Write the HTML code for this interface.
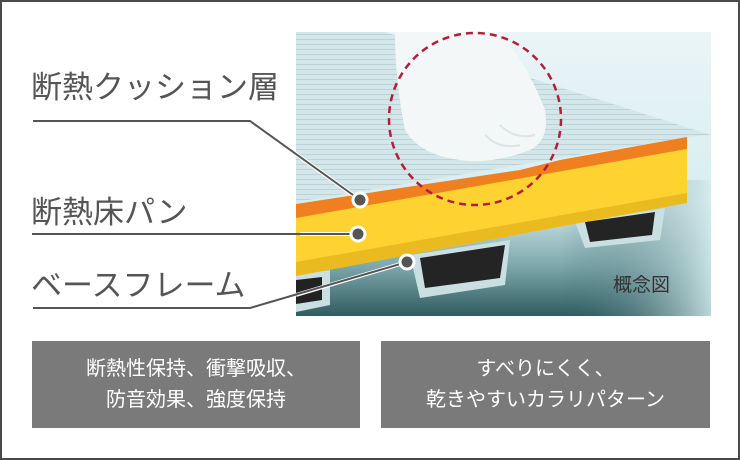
<!DOCTYPE html>
<html><head><meta charset="utf-8"><style>
body{margin:0;width:740px;height:460px;overflow:hidden;background:#fff;font-family:"Liberation Sans","Noto Sans CJK JP",sans-serif}
.frame{position:absolute;left:0;top:0;width:736px;height:456px;border:2px solid #4a4a4a}
.lbl{position:absolute;color:#555;font-size:31px;letter-spacing:0px;line-height:1}
.box{position:absolute;top:341px;height:87px;background:#7a7a7a;color:#fff;font-size:20px;line-height:31px;text-align:center;display:flex;align-items:center;justify-content:center}
</style></head><body>
<div class="frame"></div>
<svg style="position:absolute;left:0;top:0" width="740" height="460">
<defs>
<linearGradient id="bg" x1="0" y1="0" x2="0" y2="1">
<stop offset="0" stop-color="#eaf5f7"/><stop offset="0.6" stop-color="#d8edf0"/><stop offset="0.82" stop-color="#7fa9ad"/><stop offset="1" stop-color="#2f5c60"/></linearGradient>
<linearGradient id="bg2" x1="0" y1="0" x2="1" y2="0">
<stop offset="0" stop-color="#2f5c60" stop-opacity="0"/><stop offset="1" stop-color="#d5ebee" stop-opacity="0.85"/></linearGradient>
<pattern id="grid" width="6" height="5" patternUnits="userSpaceOnUse"><rect width="6" height="5" fill="#d3e6e9"/><line x1="0" y1="4.5" x2="6" y2="4.5" stroke="#bcd4d8" stroke-width="1"/></pattern>
</defs>
<rect x="296" y="32" width="415" height="284" fill="url(#bg)"/>
<rect x="560" y="180" width="151" height="136" fill="url(#bg2)"/>
<polygon points="296,32 385,32 711,135 687,137 296,202" fill="url(#grid)"/>
<polygon points="296,275 330,270 330,305 296,312" fill="#c9dfe2"/>
<polygon points="296,280 322,277 322,300 296,304" fill="#222"/>
<polygon points="410,255 510,240 505,285 420,298" fill="#c9dfe2"/>
<polygon points="420,258 505,245 500,278 425,288" fill="#242424"/>
<polygon points="575,222 665,208 660,240 585,248" fill="#c9dfe2"/>
<polygon points="585,222 655,212 652,235 590,242" fill="#242424"/>
<polygon points="296,217 687,149 687,203 296,276" fill="#fdd231"/>
<polygon points="296,262 687,193 687,203 296,276" fill="#e9bb20"/>
<polygon points="296,204 420,185 520,170 560,160 687,137 687,149 296,218" fill="#ef7f1f"/>
<path d="M395,32 L500,32 Q530,70 545,110 Q550,140 530,150 Q490,165 460,160 Q420,155 405,130 Q395,80 395,32Z" fill="#f4f7f7"/>
<path d="M485,135 Q500,150 520,145 M500,125 Q515,140 535,135" stroke="#dde4e4" stroke-width="2" fill="none"/>
<circle cx="475" cy="119" r="86" fill="none" stroke="#b21e3c" stroke-width="2.5" stroke-dasharray="7,5"/>
<g stroke="#fff" stroke-width="4" fill="none"><polyline points="250,121 360,200"/><line x1="300" y1="234" x2="358" y2="234"/><polyline points="296,295 407,262"/></g>
<g stroke="#555" stroke-width="2" fill="none">
<polyline points="33,121 250,121 360,200"/>
<line x1="32" y1="234" x2="358" y2="234"/>
<polyline points="33,308 250,308 407,262"/>
</g>
<g fill="#555" stroke="#fff" stroke-width="3"><circle cx="360" cy="200" r="7"/><circle cx="358" cy="234" r="7"/><circle cx="407" cy="262" r="7"/></g>
<text x="613" y="291" font-size="19" fill="#333" font-family="Liberation Sans,Noto Sans CJK JP,sans-serif">概念図</text>
</svg>
<div class="lbl" style="left:31px;top:72px">断熱クッション層</div>
<div class="lbl" style="left:31px;top:197px">断熱床パン</div>
<div class="lbl" style="left:31px;top:270px">ベースフレーム</div>
<div class="box" style="left:32px;width:328px">断熱性保持、衝撃吸収、<br>防音効果、強度保持</div>
<div class="box" style="left:381px;width:329px">すべりにくく、<br>乾きやすいカラリパターン</div>
</body></html>
